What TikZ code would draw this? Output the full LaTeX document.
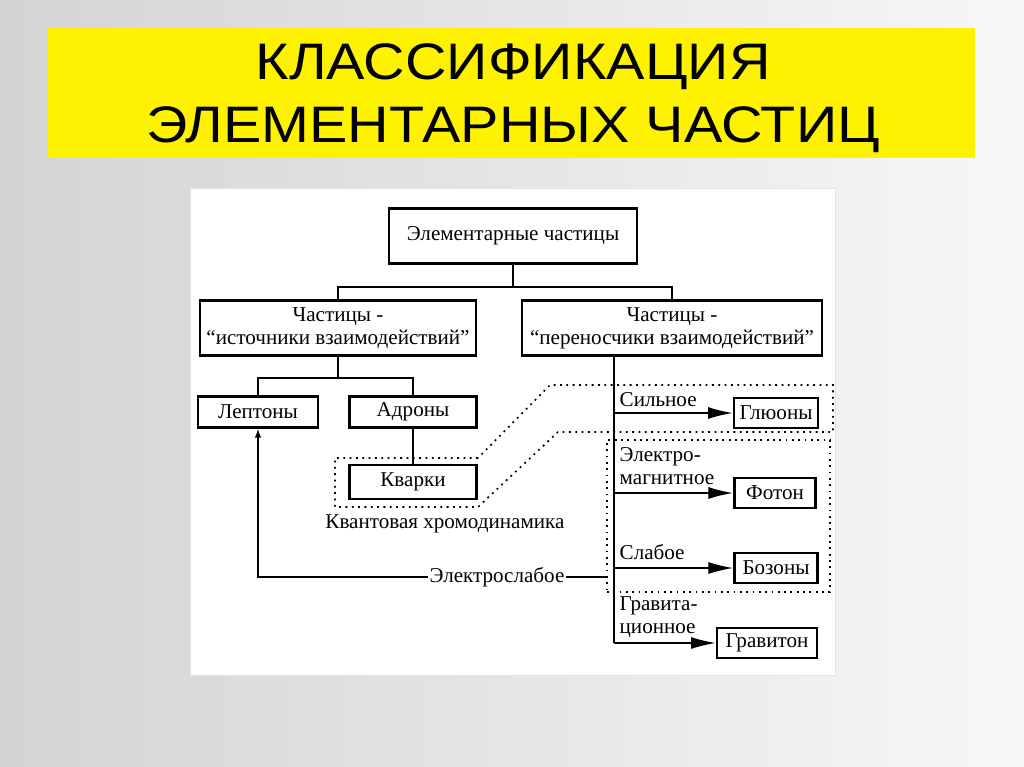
\documentclass[tikz,border=0pt]{standalone}
\usepackage{fontspec}
\setmainfont{Liberation Serif}
\newfontfamily\titlefont[FakeStretch=1.12]{Liberation Sans}
\usetikzlibrary{arrows.meta}
\tikzstyle{every node}=[inner sep=1pt,font=\fontsize{15}{16.5}\selectfont]
\tikzstyle{box}=[draw=black,line width=1.6pt,align=center]
\tikzstyle{link}=[line width=1.3pt]
\tikzstyle{arr}=[line width=1.3pt,-{Latex[length=0.62cm,width=0.3cm]}]
\tikzstyle{back}=[line width=1pt,-{Latex[length=0.22cm,width=0.16cm]}]
\tikzstyle{group}=[line width=1.2pt,dash pattern=on 1.3pt off 3.2pt]

\begin{document}
\begin{tikzpicture}[x=0.025cm,y=-0.025cm]
    \useasboundingbox (0,0) rectangle (1024,767);
    % slide
    \shade[left color=black!17,right color=black!3] (0,0) rectangle (1024,767);
    \fill[yellow] (48,28) rectangle (975,158);
    \node[font=\titlefont\fontsize{36.5}{44.8}\selectfont,align=center] (title) at (513,98)
        {КЛАССИФИКАЦИЯ\\ЭЛЕМЕНТАРНЫХ ЧАСТИЦ};
    \draw[fill=white,draw=black!12] (190,188) rectangle (835,675);
    % boxes
    \node[box,minimum width=6.18cm,minimum height=1.38cm] (elem) at (513,236) {Элементарные частицы};
    \node[box,minimum width=6.9cm,minimum height=1.38cm] (src) at (338,328) {Частицы -\\“источники взаимодействий”};
    \node[box,minimum width=7.5cm,minimum height=1.38cm] (car) at (672,328) {Частицы -\\“переносчики взаимодействий”};
    \node[box,minimum width=3cm,minimum height=0.78cm] (lept) at (258,412) {Лептоны};
    \node[box,minimum width=3.18cm,minimum height=0.78cm] (hadr) at (413,412) {Адроны};
    \node[box,minimum width=3.18cm,minimum height=0.85cm] (quark) at (413,482) {Кварки};
    \node[box,minimum width=2.1cm,minimum height=0.75cm] (gluon) at (776,413) {Глюоны};
    \node[box,minimum width=2.03cm,minimum height=0.75cm] (photon) at (775,493) {Фотон};
    \node[box,minimum width=2.08cm,minimum height=0.75cm] (boson) at (776,568) {Бозоны};
    \node[box,minimum width=2.5cm,minimum height=0.75cm] (grav) at (767,643) {Гравитон};
    % labels
    \node[anchor=west] (strong) at (618,400) {Сильное};
    \node[anchor=west,align=left] (em) at (618,466) {Электро-\\магнитное};
    \node[anchor=west] (weak) at (618,552) {Слабое};
    \node[anchor=west,align=left] (gr) at (618,617) {Гравита-\\ционное};
    \node (qcd) at (445,524) {Квантовая хромодинамика};
    \node (ew) at (497,577) {Электрослабое};
    % groups
    \draw[group] (478,458) -- (335,458) -- (335,507) -- (478,507) -- (558,432)
        -- (833,432) -- (833,385) -- (550,385) -- cycle;
    \node[group,draw,minimum width=5.575cm,minimum height=3.8cm] (ewbox) at (718.5,516) {};
    % connectors
    \coordinate (top) at (513,287);
    \coordinate (fork) at (338,378);
    \coordinate (bus) at (614,643);
    \draw[link] (elem.south) -- (top);
    \draw[link] (src.north) |- (top) -| (car.north);
    \draw[link] (src.south) -- (fork);
    \draw[link] (lept.north) |- (fork) -| (hadr.north);
    \draw[link] (hadr.south) -- (quark.north);
    \draw[link] (car.south -| bus) -- (bus);
    \draw[arr] (gluon.west -| bus) -- (gluon.west);
    \draw[arr] (photon.west -| bus) -- (photon.west);
    \draw[arr] (boson.west -| bus) -- (boson.west);
    \draw[arr] (bus) -- (grav.west);
    \draw[link] (ew.east) -- (ewbox.west |- ew);
    \draw[back] (ew.west) -| (lept.south);
\end{tikzpicture}
\end{document}
